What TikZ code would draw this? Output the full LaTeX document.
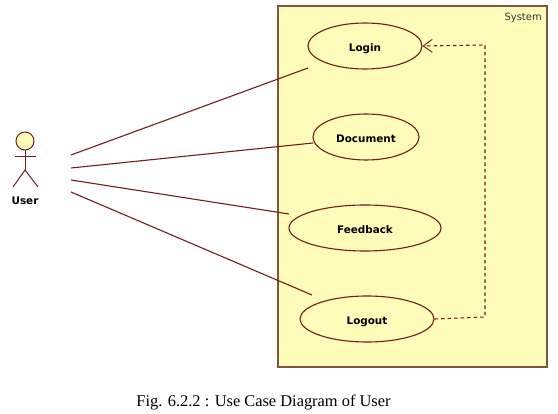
\documentclass[tikz,border=0pt]{standalone}
\usepackage{fontspec}
\setmainfont{Liberation Serif}
\setsansfont{DejaVu Sans}
\usepackage{xcolor}
\usetikzlibrary{arrows.meta,positioning,calc,shapes.geometric}
\definecolor{umlline}{RGB}{110,30,30}
\definecolor{umlfill}{RGB}{255,251,184}
\definecolor{umlframe}{RGB}{125,85,65}
\begin{document}
\begin{tikzpicture}[x=1pt,y=-1pt,font=\sffamily,
  uc/.style={draw=umlline,fill=umlfill,ellipse,line width=1.1pt,inner sep=0pt,minimum height=46pt,text height=10.6pt,text depth=0pt,font=\sffamily\bfseries\fontsize{10.4}{12}\selectfont},
  assoc/.style={draw=umlline,line width=1.1pt},
  dep/.style={draw=umlline,line width=1.1pt,dash pattern=on 3.5pt off 3pt,-{Straight Barb[length=9pt,width=13pt,line width=0.9pt]}},
  limb/.style={draw=umlline,line width=1pt}]
\useasboundingbox (0,0) rectangle (558,414);
\node[draw=umlframe,fill=umlfill,line width=1.1pt,minimum width=269pt,minimum height=361pt,inner sep=0pt] (sys) at (412.5,186.5) {};
\node[anchor=north east,inner sep=0pt,font=\sffamily\fontsize{10}{12}\selectfont,text=black!80] (sysl) at (542,13) {System};
\node[uc,minimum width=114pt] (login) at (365,46) {Login};
\node[uc,minimum width=106pt] (doc) at (366,137) {Document};
\node[uc,minimum width=152pt] (fb) at (365,228) {Feedback};
\node[uc,minimum width=134pt] (logout) at (367,319) {Logout};
% actor
\node[circle,draw=umlline,fill=umlfill,line width=1pt,minimum size=18pt,inner sep=0pt] (head) at (25,141) {};
\coordinate (hip) at (25,170);
\coordinate (arml) at (15,157);
\coordinate (armr) at (36,157);
\coordinate (legl) at (13,187);
\coordinate (legr) at (38,187);
\draw[limb] (head.south) -- (hip);
\draw[limb] (arml) -- (armr);
\draw[limb] (legl) -- (hip) -- (legr);
\node[font=\sffamily\bfseries\fontsize{10.4}{12}\selectfont,inner sep=0pt] (user) at (25,201) {User};
% associations
\coordinate (a1) at (71,155);
\coordinate (a2) at (71,168);
\coordinate (a3) at (71,180);
\coordinate (a4) at (71,192);
\coordinate (e1) at (308,68);
\coordinate (e2) at (313,143);
\coordinate (e3) at (289,214);
\coordinate (e4) at (312,295);
\draw[assoc] (a1) -- (e1);
\draw[assoc] (a2) -- (e2);
\draw[assoc] (a3) -- (e3);
\draw[assoc] (a4) -- (e4);
\coordinate (bend) at (485,45);
\draw[dep] (logout.east) -- (485,317) -- (bend) -- (login.east);
\node[font=\rmfamily\fontsize{16.4}{18}\selectfont,inner sep=0pt] (cap) at (263.5,402) {Fig. 6.2.2 : Use Case Diagram of User};
\end{tikzpicture}
\end{document}
